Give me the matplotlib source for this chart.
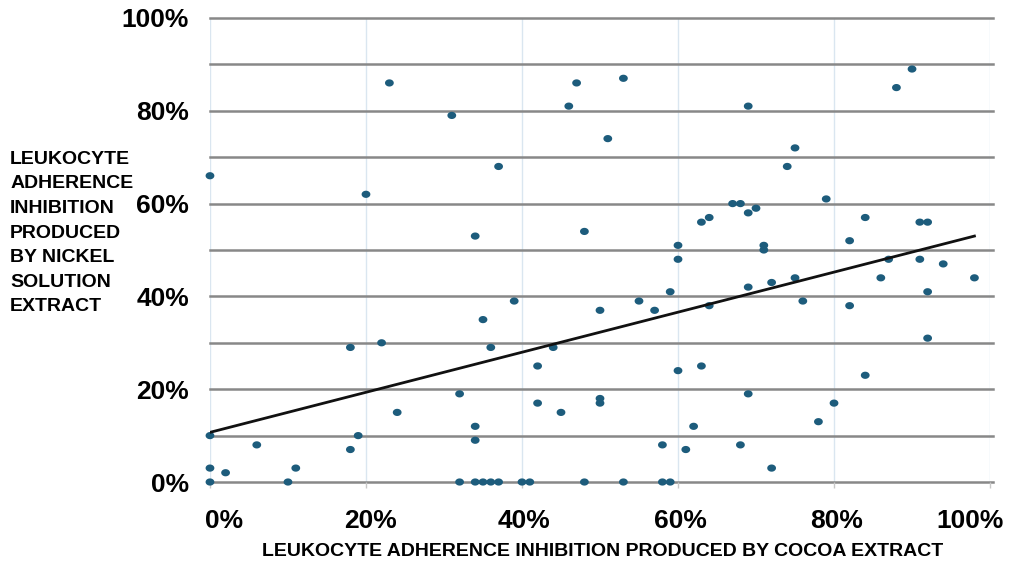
import numpy as np
import matplotlib
matplotlib.use("Agg")
import matplotlib.pyplot as plt
from matplotlib.path import Path

# Leukocyte adherence inhibition (%) per subject
cocoa_pct = [
    23, 31, 0, 20, 18, 22, 32, 24, 0, 19, 6, 18, 0, 2, 11, 0, 10,
    47, 53, 46, 51, 37, 34, 48, 60, 63, 64, 60, 59, 55, 57, 39, 50,
    35, 36, 44, 64, 42, 60, 63, 42, 50, 50, 45, 34, 34, 62, 58, 61,
    32, 34, 35, 36, 37, 40, 41, 48, 53, 58, 59,
    69, 90, 88, 75, 74, 79, 67, 68, 69, 70, 71, 84, 82, 91, 92, 71,
    87, 91, 94, 69, 72, 75, 86, 98, 92, 76, 82, 92, 84, 69, 80, 78,
    68, 72,
]
nickel_pct = [
    86, 79, 66, 62, 29, 30, 19, 15, 10, 10, 8, 7, 3, 2, 3, 0, 0,
    86, 87, 81, 74, 68, 53, 54, 51, 56, 57, 48, 41, 39, 37, 39, 37,
    35, 29, 29, 38, 25, 24, 25, 17, 18, 17, 15, 12, 9, 12, 8, 7,
    0, 0, 0, 0, 0, 0, 0, 0, 0, 0, 0,
    81, 89, 85, 72, 68, 61, 60, 60, 58, 59, 51, 57, 52, 56, 56, 50,
    48, 48, 47, 42, 43, 44, 44, 44, 41, 39, 38, 31, 23, 19, 17, 13,
    8, 3,
]

# Linear trend line endpoints
trend_x = [0, 98]
trend_y = [10.7, 53.0]

tick_values = [0, 20, 40, 60, 80, 100]
tick_labels = ["0%", "20%", "40%", "60%", "80%", "100%"]

x_title = "LEUKOCYTE ADHERENCE INHIBITION PRODUCED BY COCOA EXTRACT"
y_title = "LEUKOCYTE\nADHERENCE\nINHIBITION\nPRODUCED\nBY NICKEL\nSOLUTION\nEXTRACT"

plt.rcParams["font.family"] = ["Liberation Sans", "DejaVu Sans"]

fig = plt.figure(figsize=(10.09, 5.67), dpi=100)
ax = fig.add_axes([0.2081, 0.1499, 0.7731, 0.8184])
ax.set_xlim(0, 100)
ax.set_ylim(0, 100)

# horizontal gridlines every 10%, slightly overhanging the right edge
for v in range(0, 101, 10):
    ax.plot([0, 100.4], [v, v], color="#888888", lw=1.8, clip_on=False, zorder=1)
# pale vertical gridlines every 20%
for v in tick_values:
    ax.axvline(v, color="#dae6f0", lw=1.0, zorder=0.5)

for s in ax.spines.values():
    s.set_visible(False)

ax.set_xticks(tick_values)
ax.set_xticklabels([])
ax.tick_params(axis="x", length=4, color="#c8c8c8", width=1)
ax.set_yticks(tick_values)
ax.set_yticklabels(tick_labels, fontsize=19, fontweight="bold")
ax.tick_params(axis="y", length=0, pad=15)

# x tick labels, edge labels pulled inward
x_label_pos = [1.8, 20.6, 40.3, 60.3, 80.3, 97.5]
for xp, lab in zip(x_label_pos, tick_labels):
    ax.text(xp, -8.3, lab, ha="center", va="center", fontsize=19,
            fontweight="bold", clip_on=False)

fig.text(0.597, 0.027, x_title, ha="center", va="center",
         fontsize=14, fontweight="bold")
fig.text(0.010, 0.589, y_title, ha="left", va="center",
         fontsize=14, fontweight="bold", linespacing=1.58)

# slightly flattened dot marker
t = np.linspace(0, 2 * np.pi, 40)
ellipse = Path(np.column_stack([np.cos(t), 0.82 * np.sin(t)]), closed=True)

ax.scatter(cocoa_pct, nickel_pct, s=40, marker=ellipse, color="#1d5c7c",
           edgecolor="none", zorder=3, clip_on=False)
ax.plot(trend_x, trend_y, color="#111111", lw=2.0, zorder=4)

fig.savefig("out.png", dpi=100)
